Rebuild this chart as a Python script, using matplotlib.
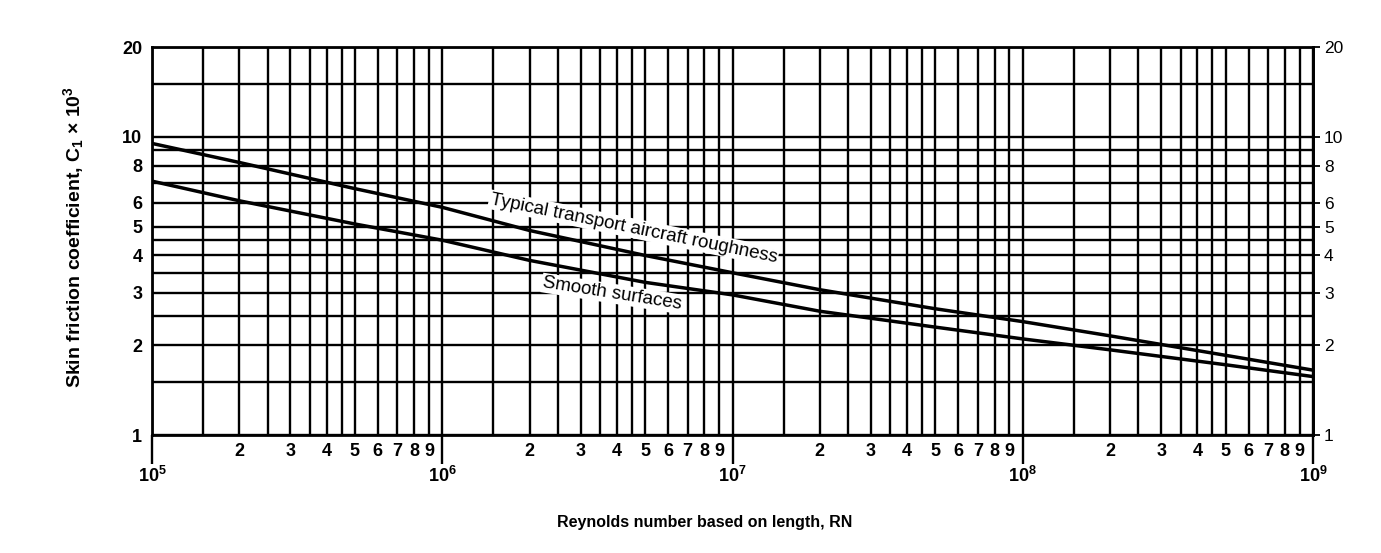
import numpy as np
import matplotlib
matplotlib.use("Agg")
import matplotlib.pyplot as plt
from matplotlib.ticker import FixedLocator, NullLocator, FixedFormatter

plt.rcParams['font.family'] = ['Liberation Sans', 'DejaVu Sans']
plt.rcParams['mathtext.default'] = 'regular'

# ---- data ----
reynolds = [1e5, 2e5, 5e5, 1e6, 2e6, 5e6, 1e7, 2e7, 5e7, 1e8, 2e8, 5e8, 1e9]
cf_rough = [9.5, 8.2, 6.7, 5.8, 4.85, 4.0, 3.5, 3.07, 2.65, 2.4, 2.15, 1.85, 1.65]
cf_smooth = [7.1, 6.1, 5.1, 4.5, 3.85, 3.25, 2.95, 2.6, 2.3, 2.1, 1.93, 1.72, 1.57]

x_decades = [1e5, 1e6, 1e7, 1e8, 1e9]
x_grid_mantissa = [1, 1.5, 2, 2.5, 3, 3.5, 4, 4.5, 5, 6, 7, 8, 9]
x_label_mantissa = [2, 3, 4, 5, 6, 7, 8, 9]
y_grid = [1, 1.5, 2, 2.5, 3, 3.5, 4, 4.5, 5, 6, 7, 8, 9, 10, 15, 20]
y_ticks = [1, 2, 3, 4, 5, 6, 8, 10, 20]
y_ticklabels = ['1', '2', '3', '4', '5', '6', '8', '10', '20']
decade_labels = [r'$10^{5}$', r'$10^{6}$', r'$10^{7}$', r'$10^{8}$', r'$10^{9}$']

label_rough = 'Typical transport aircraft roughness'
label_smooth = 'Smooth surfaces'

# ---- figure ----
W, H = 1381, 553
fig = plt.figure(figsize=(W / 100, H / 100), dpi=100)
ax = fig.add_axes([152 / W, 1 - 435 / H, (1313 - 152) / W, (435 - 47) / H])
ax.set_xscale('log')
ax.set_yscale('log')
ax.set_xlim(1e5, 1e9)
ax.set_ylim(1, 20)

# grid
x_grid = [m * d for d in x_decades[:-1] for m in x_grid_mantissa] + [x_decades[-1]]
ax.vlines(x_grid, 1, 20, colors='black', linewidth=1.7, zorder=1)
ax.hlines(y_grid, 1e5, 1e9, colors='black', linewidth=1.7, zorder=1)

# curves
ax.plot(reynolds, cf_rough, color='black', linewidth=2.5, zorder=5)
ax.plot(reynolds, cf_smooth, color='black', linewidth=2.5, zorder=5)

# curve labels
ax.text(4.56e6, 4.93, label_rough, rotation=-11.5, ha='center', va='center',
        rotation_mode='anchor', fontsize=13.5, zorder=4,
        bbox=dict(facecolor='white', edgecolor='none', pad=1.0))
ax.text(3.86e6, 2.98, label_smooth, rotation=-9.0, ha='center', va='center',
        rotation_mode='anchor', fontsize=13.5, zorder=4,
        bbox=dict(facecolor='white', edgecolor='none', pad=1.0))

for s in ax.spines.values():
    s.set_linewidth(2.0)
    s.set_zorder(6)

# x ticks
ax.xaxis.set_major_locator(FixedLocator(x_decades))
ax.xaxis.set_major_formatter(FixedFormatter(decade_labels))
x_minor = [m * d for d in x_decades[:-1] for m in x_label_mantissa]
ax.xaxis.set_minor_locator(FixedLocator(x_minor))
ax.xaxis.set_minor_formatter(FixedFormatter([str(m) for d in x_decades[:-1] for m in x_label_mantissa]))
ax.tick_params(axis='x', which='major', length=21, width=1.7, direction='out',
               pad=1, labelsize=13)
ax.tick_params(axis='x', which='minor', length=0, pad=5.5, labelsize=13)
for lab in ax.get_xticklabels(which='both'):
    lab.set_fontweight('bold')

# left y ticks
ax.yaxis.set_major_locator(FixedLocator(y_ticks))
ax.yaxis.set_major_formatter(FixedFormatter(y_ticklabels))
ax.yaxis.set_minor_locator(NullLocator())
ax.tick_params(axis='y', which='major', length=0, pad=7, labelsize=13)
for lab in ax.get_yticklabels():
    lab.set_fontweight('bold')

# right y ticks
sec = ax.secondary_yaxis('right')
sec.set_yscale('log')
sec.yaxis.set_major_locator(FixedLocator(y_ticks))
sec.yaxis.set_major_formatter(FixedFormatter(y_ticklabels))
sec.yaxis.set_minor_locator(NullLocator())
sec.tick_params(axis='y', which='major', length=5, width=1.3, pad=3, labelsize=12.5)
sec.spines['right'].set_linewidth(2.0)

# axis labels
ax.set_xlabel('Reynolds number based on length, RN', fontsize=11.5, fontweight='bold')
ax.xaxis.set_label_coords(0.476, -0.207)
ax.set_ylabel(r'Skin friction coefficient, C$_{1}$ × 10$^{3}$', fontsize=14, fontweight='bold')
ax.yaxis.set_label_coords(-0.057, 0.51)

fig.savefig('out.png', dpi=100)
